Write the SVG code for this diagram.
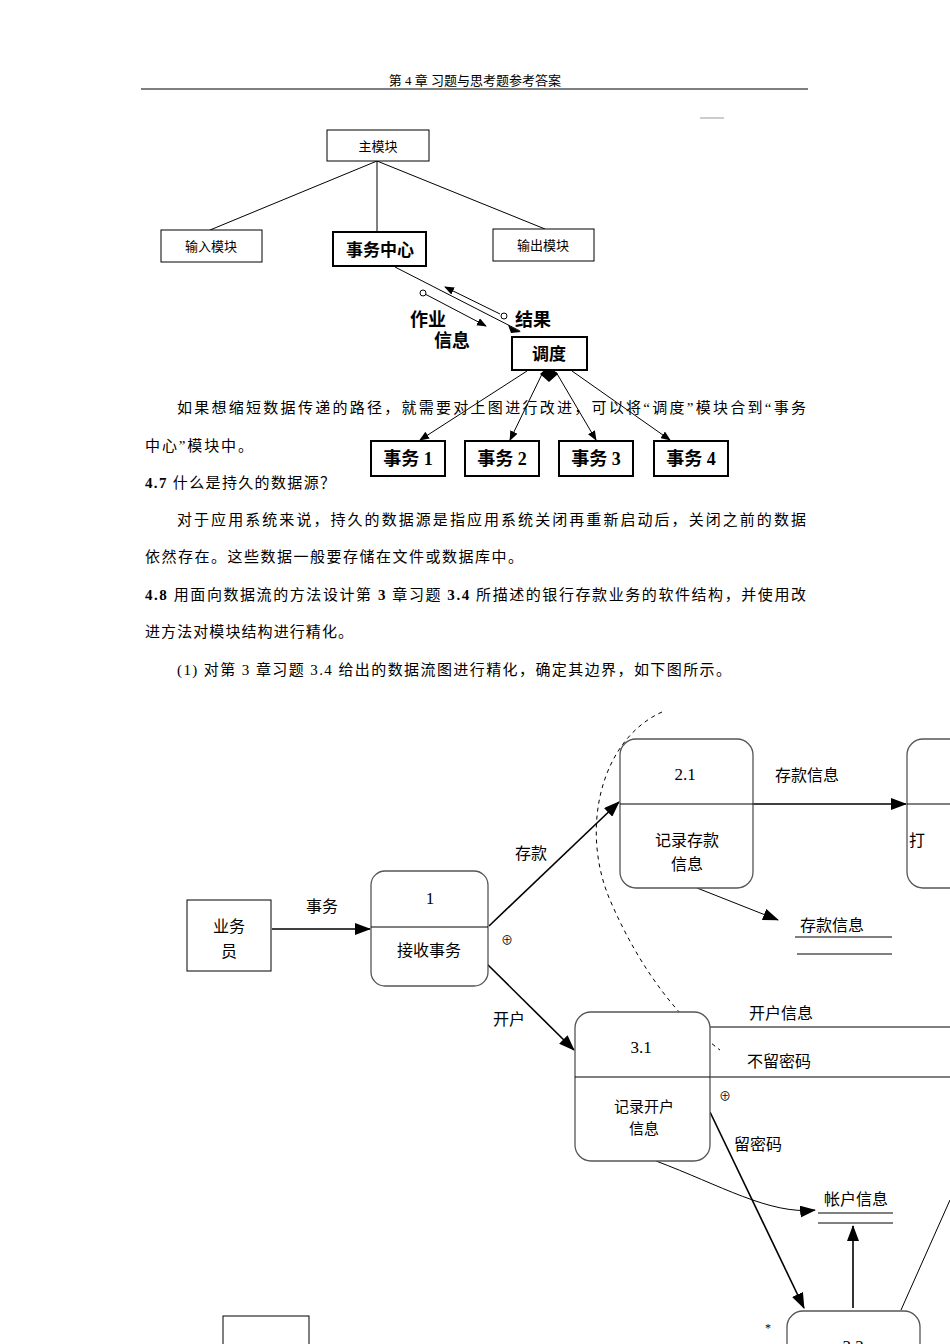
<svg xmlns="http://www.w3.org/2000/svg" width="950" height="1344" viewBox="0 0 950 1344">
<style>
.s{font-family:"Liberation Serif","Noto Sans CJK SC",serif;fill:#000}
.h{font-family:"Noto Sans CJK SC",sans-serif;fill:#000}
.b{fill:#fff;stroke:#000;stroke-width:1}
.bb{fill:#fff;stroke:#000;stroke-width:2}
.l{stroke:#000;stroke-width:1;fill:none}
.t{stroke:#000;stroke-width:1.6;fill:none}
.r{fill:#fff;stroke:#555;stroke-width:1.3}
</style>
<defs>
<marker id="a" markerWidth="10" markerHeight="8" refX="9" refY="4" orient="auto" markerUnits="userSpaceOnUse"><path d="M0,0L10,4L0,8z" fill="#000"/></marker>
<marker id="A" markerWidth="16" markerHeight="12" refX="15" refY="6" orient="auto" markerUnits="userSpaceOnUse"><path d="M0,0L16,6L0,12z" fill="#000"/></marker>
</defs>
<rect width="950" height="1344" fill="#fff"/>
<text class="s" x="475" y="85" font-size="13" text-anchor="middle">第 4 章  习题与思考题参考答案</text>
<line x1="141" y1="89" x2="808" y2="89" stroke="#000" stroke-width="1.2"/>
<line x1="700" y1="118" x2="724" y2="118" stroke="#999"/>

<g id="conn1">
<line class="l" x1="377" y1="161" x2="210" y2="230"/>
<line class="l" x1="377" y1="161" x2="377" y2="232"/>
<line class="l" x1="377" y1="161" x2="545" y2="229"/>
<line class="l" x1="395" y1="267" x2="520" y2="331"/>
<path d="M508,325l13,7l-10,1z" fill="#000"/>
<line class="l" x1="500" y1="314" x2="445" y2="287" marker-end="url(#a)"/>
<circle cx="504" cy="316" r="3" fill="#fff" stroke="#000"/>
<line class="l" x1="425" y1="294" x2="486" y2="326" marker-end="url(#a)"/>
<circle cx="423" cy="293" r="3" fill="#fff" stroke="#000"/>
<line class="l" x1="527" y1="371" x2="420" y2="440" marker-end="url(#a)"/>
<line class="l" x1="543" y1="372" x2="510" y2="440" marker-end="url(#a)"/>
<line class="l" x1="556" y1="372" x2="596" y2="440" marker-end="url(#a)"/>
<line class="l" x1="572" y1="371" x2="670" y2="440" marker-end="url(#a)"/>
<path d="M549,366l9,8l-9,8l-9,-8z" fill="#000"/>
</g>
<g id="main"><rect class="b" x="327" y="130" width="102" height="31"/><text class="h" x="378" y="151" font-size="13" text-anchor="middle">主模块</text></g>
<g id="in"><rect class="b" x="161" y="230" width="101" height="32"/><text class="h" x="211" y="251" font-size="13" text-anchor="middle">输入模块</text></g>
<g id="center"><rect class="bb" x="333" y="232" width="93" height="34"/><text class="h" x="380" y="256" font-size="17" font-weight="bold" text-anchor="middle">事务中心</text></g>
<g id="out"><rect class="b" x="493" y="229" width="101" height="32"/><text class="h" x="543" y="250" font-size="13" text-anchor="middle">输出模块</text></g>
<text class="h" x="428" y="326" font-size="18" font-weight="bold" text-anchor="middle">作业</text>
<text class="h" x="452" y="347" font-size="18" font-weight="bold" text-anchor="middle">信息</text>
<text class="h" x="515" y="326" font-size="18" font-weight="bold">结果</text>
<g id="sched"><rect class="bb" x="512" y="337" width="75" height="33"/><text class="h" x="549" y="360" font-size="17" font-weight="bold" text-anchor="middle">调度</text></g>
<text class="s" x="177" y="413" font-size="15" textLength="629" lengthAdjust="spacing">如果想缩短数据传递的路径，就需要对上图进行改进，可以将“调度”模块合到“事务</text>
<text class="s" x="145" y="451" font-size="15" textLength="108" lengthAdjust="spacing">中心”模块中。</text>
<g id="t1"><rect class="bb" x="371" y="441" width="74" height="35"/><text class="s" x="408" y="465" font-size="18" font-weight="bold" text-anchor="middle">事务 1</text></g>
<g id="t2"><rect class="bb" x="465" y="441" width="74" height="35"/><text class="s" x="502" y="465" font-size="18" font-weight="bold" text-anchor="middle">事务 2</text></g>
<g id="t3"><rect class="bb" x="559" y="441" width="74" height="35"/><text class="s" x="596" y="465" font-size="18" font-weight="bold" text-anchor="middle">事务 3</text></g>
<g id="t4"><rect class="bb" x="654" y="441" width="74" height="35"/><text class="s" x="691" y="465" font-size="18" font-weight="bold" text-anchor="middle">事务 4</text></g>
<text class="s" x="145" y="488" font-size="15" textLength="190" lengthAdjust="spacing"><tspan font-weight="bold">4.7</tspan>  什么是持久的数据源？</text>
<text class="s" x="177" y="525" font-size="15" textLength="629" lengthAdjust="spacing">对于应用系统来说，持久的数据源是指应用系统关闭再重新启动后，关闭之前的数据</text>
<text class="s" x="145" y="562" font-size="15" textLength="378" lengthAdjust="spacing">依然存在。这些数据一般要存储在文件或数据库中。</text>
<text class="s" x="145" y="600" font-size="15" textLength="661" lengthAdjust="spacing"><tspan font-weight="bold">4.8</tspan>  用面向数据流的方法设计第 <tspan font-weight="bold">3</tspan> 章习题 <tspan font-weight="bold">3.4</tspan> 所描述的银行存款业务的软件结构，并使用改</text>
<text class="s" x="145" y="637" font-size="15" textLength="208" lengthAdjust="spacing">进方法对模块结构进行精化。</text>
<text class="s" x="177" y="675" font-size="15" textLength="554" lengthAdjust="spacing">(1)  对第 3 章习题 3.4 给出的数据流图进行精化，确定其边界，如下图所示。</text>

<g id="conn2">
<path d="M662,712 C600,740 580,830 610,900 C640,970 680,1020 720,1050" class="l" stroke-dasharray="4,4"/>
<line class="t" x1="272" y1="929" x2="370" y2="929" marker-end="url(#A)"/>
<line class="t" x1="489" y1="926" x2="619" y2="802" marker-end="url(#A)"/>
<line class="t" x1="752" y1="804" x2="906" y2="804" marker-end="url(#A)"/>
<line class="l" x1="697" y1="888" x2="778" y2="920" marker-end="url(#A)"/>
<line class="t" x1="486" y1="963" x2="574" y2="1050" marker-end="url(#A)"/>
<line class="l" x1="710" y1="1027" x2="950" y2="1027"/>
<line class="l" x1="710" y1="1077" x2="950" y2="1077"/>
<path class="l" d="M656,1161 C720,1185 770,1215 815,1210" marker-end="url(#A)"/>
<line class="t" x1="710" y1="1112" x2="804" y2="1308" marker-end="url(#A)"/>
<line class="t" x1="853" y1="1308" x2="853" y2="1226" marker-end="url(#A)"/>
<line class="l" x1="901" y1="1310" x2="950" y2="1200"/>
</g>
<text class="h" x="322" y="912" font-size="16" text-anchor="middle">事务</text>
<text class="h" x="531" y="859" font-size="16" text-anchor="middle">存款</text>
<text class="h" x="807" y="781" font-size="16" text-anchor="middle">存款信息</text>
<text class="h" x="509" y="1025" font-size="16" text-anchor="middle">开户</text>
<text class="h" x="781" y="1019" font-size="16" text-anchor="middle">开户信息</text>
<text class="h" x="779" y="1067" font-size="16" text-anchor="middle">不留密码</text>
<text class="h" x="758" y="1150" font-size="16" text-anchor="middle">留密码</text>
<text class="s" x="507" y="945" font-size="12" text-anchor="middle">⊕</text>
<text class="s" x="725" y="1101" font-size="12" text-anchor="middle">⊕</text>
<text class="s" x="768" y="1332" font-size="12" text-anchor="middle">*</text>
<g id="clerk"><rect class="b" x="187" y="900" width="84" height="71"/><text class="h" x="229" y="932" font-size="16" text-anchor="middle">业务</text><text class="h" x="229" y="957" font-size="16" text-anchor="middle">员</text></g>
<g id="p1"><rect class="r" x="371" y="871" width="117" height="115" rx="14"/><line class="l" x1="371" y1="927" x2="488" y2="927"/><text class="s" x="430" y="904" font-size="17" text-anchor="middle">1</text><text class="h" x="429" y="956" font-size="16" text-anchor="middle">接收事务</text></g>
<g id="p21"><rect class="r" x="620" y="739" width="133" height="149" rx="16"/><line class="l" x1="620" y1="804" x2="753" y2="804"/><text class="s" x="685" y="780" font-size="17" text-anchor="middle">2.1</text><text class="h" x="687" y="846" font-size="16" text-anchor="middle">记录存款</text><text class="h" x="687" y="870" font-size="16" text-anchor="middle">信息</text></g>
<g id="p22"><rect class="r" x="907" y="739" width="60" height="149" rx="16"/><line class="l" x1="907" y1="804" x2="950" y2="804"/><text class="h" x="909" y="846" font-size="16">打</text></g>
<g id="ds1"><text class="h" x="832" y="931" font-size="16" text-anchor="middle">存款信息</text><line class="l" x1="795" y1="937" x2="892" y2="937"/><line class="l" x1="797" y1="954" x2="892" y2="954"/></g>
<g id="p31"><rect class="r" x="575" y="1012" width="135" height="149" rx="16"/><line class="l" x1="575" y1="1077" x2="710" y2="1077"/><text class="s" x="641" y="1053" font-size="17" text-anchor="middle">3.1</text><text class="h" x="644" y="1112" font-size="15" text-anchor="middle">记录开户</text><text class="h" x="644" y="1134" font-size="15" text-anchor="middle">信息</text></g>
<g id="ds2"><text class="h" x="856" y="1205" font-size="16" text-anchor="middle">帐户信息</text><line class="l" x1="818" y1="1213" x2="893" y2="1213"/><line class="l" x1="818" y1="1223" x2="893" y2="1223"/></g>
<g id="p32"><rect class="r" x="787" y="1311" width="133" height="80" rx="16"/><text class="s" x="853" y="1352" font-size="17" text-anchor="middle">3.2</text></g>
<g id="box"><rect class="b" x="223" y="1316" width="86" height="60"/></g>
</svg>
